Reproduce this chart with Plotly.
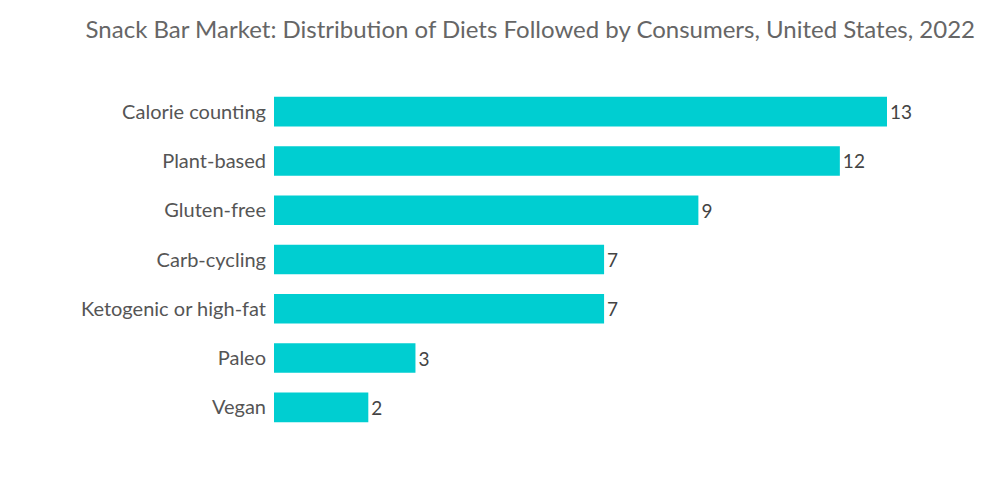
import plotly.graph_objects as go

categories = ["Calorie counting", "Plant-based", "Gluten-free", "Carb-cycling",
              "Ketogenic or high-fat", "Paleo", "Vegan"]
values = [13, 12, 9, 7, 7, 3, 2]
title = "Snack Bar Market: Distribution of Diets Followed by Consumers, United States, 2022"

fig = go.Figure(go.Bar(
    x=values, y=categories, orientation="h",
    marker=dict(color="#00CED1", line=dict(width=0)),
    width=0.6,
    text=[str(v) for v in values], textposition="outside",
    textfont=dict(family="Lato", size=19, color="#444444"),
    cliponaxis=False,
))

fig.update_layout(
    width=1000, height=504,
    paper_bgcolor="white", plot_bgcolor="white",
    margin=dict(l=266, r=121, t=79, b=80),
    title=dict(text=title, x=0.967, xanchor="right", xref="container",
               y=1 - 22/504, yanchor="middle", yref="container",
               font=dict(family="Lato", size=24, color="#666666")),
    xaxis=dict(range=[0, 13], visible=False, showgrid=False, zeroline=False),
    yaxis=dict(autorange="reversed", showgrid=False, zeroline=False, showline=False,
               ticks="", ticklabelstandoff=7,
               tickfont=dict(family="Lato", size=20, color="#555555")),
    showlegend=False,
    bargap=0.4,
)

fig.write_html("out.html")
